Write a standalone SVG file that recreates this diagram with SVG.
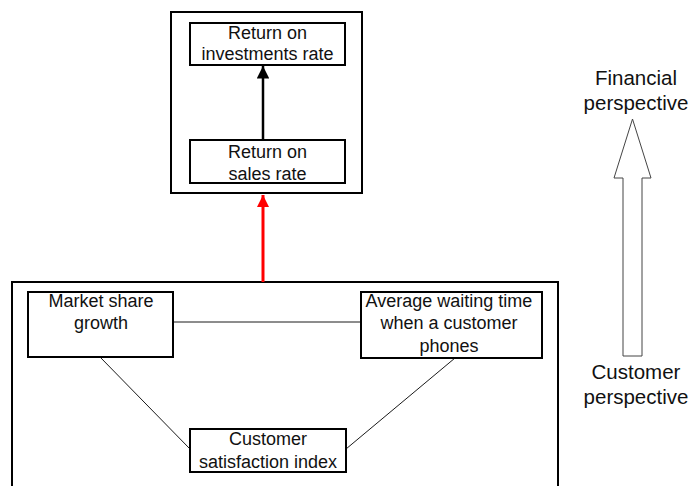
<svg xmlns="http://www.w3.org/2000/svg" width="693" height="486" viewBox="0 0 693 486">
  <style>
    .frame { fill: none; stroke: #000; stroke-width: 2; }
    .box { fill: #fff; stroke: #000; stroke-width: 2; }
    .link { fill: none; stroke: #1a1a1a; stroke-width: 1; }
    .lbl { font-family: "Liberation Sans", Arial, sans-serif; font-size: 18px; fill: #111; text-anchor: middle; }
    .side { font-family: "Liberation Sans", Arial, sans-serif; font-size: 20.5px; fill: #111; text-anchor: middle; }
  </style>
  <defs>
    <marker id="headBlack" viewBox="0 0 10 10" refX="10" refY="5" markerWidth="5" markerHeight="5" orient="auto" markerUnits="strokeWidth">
      <path d="M0,0 L10,5 L0,10 z" fill="#000"/>
    </marker>
    <marker id="headRed" viewBox="0 0 10 10" refX="10" refY="5" markerWidth="4" markerHeight="4" orient="auto" markerUnits="strokeWidth">
      <path d="M0,0 L10,5 L0,10 z" fill="#f00"/>
    </marker>
  </defs>
  <rect width="693" height="486" fill="#fff"/>

  <!-- perspective frames -->
  <g id="financial-frame">
    <rect class="frame" x="171" y="12" width="191" height="181"/>
  </g>
  <g id="customer-frame">
    <rect class="frame" x="12" y="282" width="546" height="220"/>
  </g>

  <!-- connectors -->
  <g id="connectors">
    <line class="link" x1="173" y1="322" x2="361" y2="322"/>
    <line class="link" x1="100" y1="357" x2="190" y2="449"/>
    <line class="link" x1="455" y1="358" x2="346" y2="449"/>
    <line x1="263" y1="140" x2="263" y2="66" stroke="#000" stroke-width="2.5" marker-end="url(#headBlack)"/>
    <line x1="263" y1="282" x2="263" y2="195" stroke="#f00" stroke-width="3" marker-end="url(#headRed)"/>
  </g>

  <g id="roi">
    <rect class="box" x="190" y="23" width="155" height="42"/>
    <text class="lbl" x="267.5" y="39">Return on</text>
    <text class="lbl" x="267.5" y="60">investments rate</text>
  </g>
  <g id="ros">
    <rect class="box" x="190" y="140" width="155" height="43"/>
    <text class="lbl" x="267.5" y="158">Return on</text>
    <text class="lbl" x="267.5" y="180">sales rate</text>
  </g>
  <g id="market-share">
    <rect class="box" x="28" y="292" width="145" height="65"/>
    <text class="lbl" x="101" y="307">Market share</text>
    <text class="lbl" x="101" y="329">growth</text>
  </g>
  <g id="waiting-time">
    <rect class="box" x="361" y="292" width="181" height="66"/>
    <text class="lbl" x="449" y="307">Average waiting time</text>
    <text class="lbl" x="449" y="329">when a customer</text>
    <text class="lbl" x="449" y="352">phones</text>
  </g>
  <g id="satisfaction">
    <rect class="box" x="190" y="429" width="156" height="43"/>
    <text class="lbl" x="268" y="445">Customer</text>
    <text class="lbl" x="268" y="468">satisfaction index</text>
  </g>

  <!-- direction of the perspectives -->
  <g id="perspective-arrow">
    <path d="M632.5,119 L651,178 L642,178 L642,356 L623,356 L623,178 L614,178 Z" fill="#fff" stroke="#444" stroke-width="1"/>
    <text class="side" x="636" y="85">Financial</text>
    <text class="side" x="636" y="110">perspective</text>
    <text class="side" x="636" y="379">Customer</text>
    <text class="side" x="636" y="404">perspective</text>
  </g>
</svg>
